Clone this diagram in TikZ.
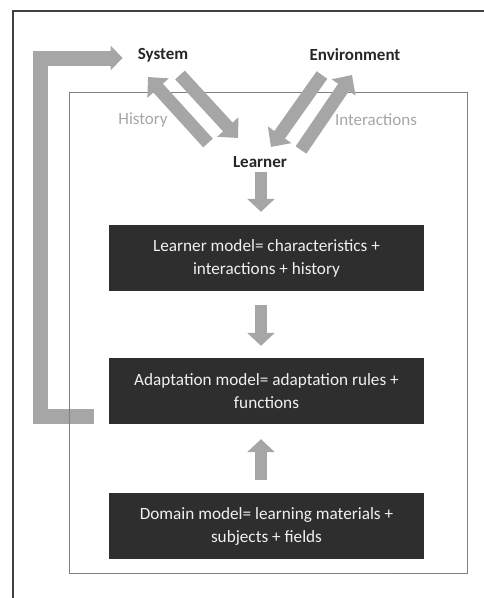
\documentclass[tikz,border=0pt]{standalone}
\usepackage{fontspec}
\setmainfont{Carlito}
\usetikzlibrary{arrows.meta}

\definecolor{arrowgray}{HTML}{A6A6A6}
\definecolor{boxdark}{HTML}{2E2E2E}
\definecolor{framegray}{HTML}{808080}

\tikzset{
  label/.style={inner sep=0pt, font=\fontsize{17}{20}\selectfont\bfseries, text=black!85},
  note/.style={inner sep=0pt, font=\fontsize{17}{20}\selectfont, text=arrowgray},
  model/.style={fill=boxdark, text=white!94!black, minimum width=315pt, minimum height=66pt,
    align=center, inner sep=0pt, font=\fontsize{17.2}{23}\selectfont},
  bigarrow/.style={draw=arrowgray, line width=13pt,
    -{Triangle[width=28pt,length=15pt]}},
  downarrow/.style={draw=arrowgray, line width=12pt,
    -{Triangle[width=27pt,length=13pt]}},
  loop/.style={draw=arrowgray, line width=15pt, line join=miter,
    -{Triangle[width=24pt,length=12pt]}}
}

\begin{document}
\begin{tikzpicture}[x=1pt,y=-1pt]

\path [use as bounding box] (0,0) rectangle (484,598);

% TOP LABELS
\node [label] (system) at (163,55) {System};
\node [label] (environment) at (355,55) {Environment};
\node [label] (learner) at (260,162) {Learner};
\node [note] (history) at (143,120) {History};
\node [note] (interactions) at (376,120) {Interactions};

% MODELS
\node [model] (lm) at (266.5,258) {Learner model= characteristics +\\interactions + history};
\node [model] (am) at (266.5,391) {Adaptation model= adaptation rules +\\functions};
\node [model] (dm) at (266.5,526) {Domain model= learning materials +\\subjects + fields};

% FEEDBACK
\draw [loop] ([shift={(-15,25)}]am.west) -- ++(-53,0) |- ([shift={(-15,3)}]system.west);

% FRAMES
\draw [line width=2pt, draw=black!75] (13,598) -- (13,11) -- (484,11);
\draw [draw=framegray, line width=1pt] (69,92) rectangle (467,573);

% SYSTEM AND ENVIRONMENT
\draw [bigarrow] ([shift={(-52,-19)}]learner.center) -- ([shift={(-15,22)}]system.center);
\draw [bigarrow] ([shift={(17,20)}]system.center) -- ([shift={(-22,-24)}]learner.center);
\draw [bigarrow] ([shift={(-33,20)}]environment.center) -- ([shift={(11,-15)}]learner.center);
\draw [bigarrow] ([shift={(41,-12)}]learner.center) -- ([shift={(-3,20)}]environment.center);

% DOWN THE CHAIN
\draw [downarrow] ([shift={(1,10)}]learner.center) -- ([shift={(-5.5,-13)}]lm.north);
\draw [downarrow] ([shift={(-5.5,14)}]lm.south) -- ([shift={(-5.5,-12)}]am.north);
\draw [downarrow] ([shift={(-5.5,-13)}]dm.north) -- ([shift={(-5.5,15)}]am.south);

\end{tikzpicture}
\end{document}
